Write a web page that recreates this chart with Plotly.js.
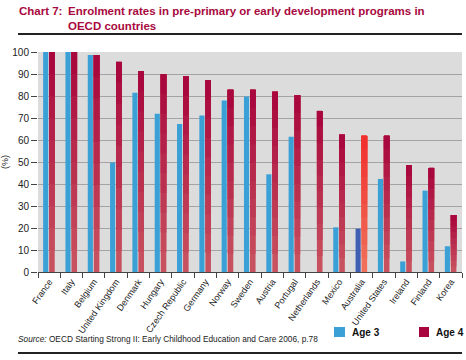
<!DOCTYPE html>
<html>
<head>
<meta charset="utf-8">
<script src="https://cdn.plot.ly/plotly-3.0.1.min.js"></script>
<style>html,body{margin:0;padding:0;background:#fff;overflow:hidden;}#chart{width:466px;height:360px;}</style>
</head>
<body>
<div id="chart"></div>
<script>
const countries = ["France","Italy","Belgium","United Kingdom","Denmark","Hungary","Czech Republic","Germany","Norway","Sweden","Austria","Portugal","Netherlands","Mexico","Australia","United States","Ireland","Finland","Korea"];
const age3 = [100,100,98.6,49.8,81.5,71.9,67.3,71.1,78,79.8,44.4,61.5,null,20.3,19.7,42.3,4.8,37,11.7];
const age4 = [100,100,98.6,95.5,91.3,89.9,88.9,87.2,82.8,82.8,81.9,80.3,73.2,62.4,61.9,61.9,48.6,47.3,25.9];
const yTicks = [0,10,20,30,40,50,60,70,80,90,100];
const seriesNames = ["Age 3","Age 4"];

const blue = "#3aa0d6", blueAus = "#3e5fb2";
const age3Colors = countries.map(c => c === "Australia" ? blueAus : blue);

const traces = [];
traces.push({type:"bar", x:countries, y:age3, name:seriesNames[0], width:0.23, offset:-0.27,
  marker:{color:age3Colors, line:{width:0}}});
const steps = 10;
function mix(a,b,t){const pa=[parseInt(a.substr(1,2),16),parseInt(a.substr(3,2),16),parseInt(a.substr(5,2),16)];
  const pb=[parseInt(b.substr(1,2),16),parseInt(b.substr(3,2),16),parseInt(b.substr(5,2),16)];
  return "rgb("+pa.map((v,i)=>Math.round(v+(pb[i]-v)*t)).join(",")+")";}
for (let k = 0; k < steps; k++) {
  const t = k/steps;
  const cols = countries.map(c => c === "Australia" ? mix("#f0705a","#f02a2a",t) : mix("#c8515f","#a5003a",t));
  traces.push({type:"bar", x:countries, y:age4.map(v => v*(1-t)), base:age4.map(v => v*t),
    name:seriesNames[1], width:0.25, offset:0.0, marker:{color:cols, line:{width:0}}, hoverinfo:"skip"});
}

const W = 466, H = 360, L = 38, R = 4, T = 52, B = 88;
const pw = W - L - R, ph = H - T - B;
const px = v => (v - L) / pw;
const py = v => (H - B - v) / ph;

const layout = {
  width:W, height:H, autosize:false,
  margin:{l:L, r:R, t:T, b:B, autoexpand:false},
  paper_bgcolor:"#ffffff", plot_bgcolor:"#dcdcdc",
  barmode:"overlay", showlegend:false,
  font:{family:"Liberation Sans Narrow, Liberation Sans, Arial, sans-serif", size:10, color:"#222"},
  xaxis:{type:"category", automargin:false, tickangle:-55, tickson:"boundaries", ticks:"outside", ticklen:5,
    tickcolor:"#444", showline:true, linecolor:"#444", linewidth:1, showgrid:false,
    tickfont:{size:9, color:"#222"}},
  yaxis:{automargin:false, range:[0,100], tickvals:yTicks, ticktext:yTicks.map(String), ticks:"outside", ticklen:6,
    tickcolor:"#444", showline:false, gridcolor:"#a4a4a4", gridwidth:1, zeroline:false,
    tickfont:{size:10, color:"#222"}, title:{text:"(%)", font:{size:9}, standoff:2}},
  annotations:[
    {xref:"paper", yref:"paper", x:px(17), y:py(3), xanchor:"left", yanchor:"top", showarrow:false, align:"left",
     text:"<b>Chart 7:</b>", font:{family:"Liberation Sans, Arial, sans-serif", size:11.5, color:"#a8093e"}},
    {xref:"paper", yref:"paper", x:px(66), y:py(3), xanchor:"left", yanchor:"top", showarrow:false, align:"left",
     text:"<b>Enrolment rates in pre-primary or early development programs in<br>OECD countries</b>",
     font:{family:"Liberation Sans, Arial, sans-serif", size:11.5, color:"#a8093e"}},
    {xref:"paper", yref:"paper", x:px(16), y:py(339), xanchor:"left", yanchor:"middle", showarrow:false, align:"left",
     text:"<i>Source:</i> OECD Starting Strong II: Early Childhood Education and Care 2006, p.78",
     font:{family:"Liberation Sans Narrow, Arial, sans-serif", size:8.3, color:"#222"}},
    {xref:"paper", yref:"paper", x:px(350), y:py(332), xanchor:"left", yanchor:"middle", showarrow:false,
     text:"<b>"+seriesNames[0]+"</b>", font:{family:"Liberation Sans Narrow, Arial, sans-serif", size:10, color:"#111"}},
    {xref:"paper", yref:"paper", x:px(434), y:py(332), xanchor:"left", yanchor:"middle", showarrow:false,
     text:"<b>"+seriesNames[1]+"</b>", font:{family:"Liberation Sans Narrow, Arial, sans-serif", size:10, color:"#111"}}
  ],
  shapes:[
    {type:"line", xref:"paper", yref:"paper", x0:px(18), x1:px(462), y0:py(34), y1:py(34), line:{color:"#222", width:2}},
    {type:"line", xref:"paper", yref:"paper", x0:px(18), x1:px(462), y0:py(353), y1:py(353), line:{color:"#222", width:2}},
    {type:"rect", xref:"paper", yref:"paper", x0:px(334), x1:px(345), y0:py(327), y1:py(337), fillcolor:blue, line:{width:0}},
    {type:"rect", xref:"paper", yref:"paper", x0:px(419), x1:px(429), y0:py(327), y1:py(337), fillcolor:"#a8043e", line:{width:0}}
  ]
};
Plotly.newPlot("chart", traces, layout, {displayModeBar:false, staticPlot:true});
</script>
</body>
</html>
